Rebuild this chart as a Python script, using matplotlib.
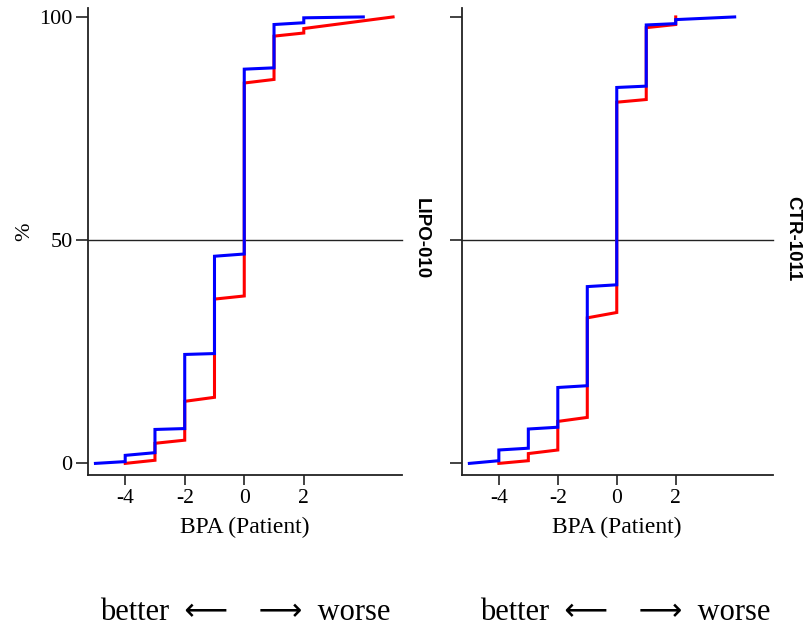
import matplotlib
matplotlib.use("Agg")
import matplotlib.pyplot as plt

# ---- data ----
panel_names = ["LIPO-010", "CTR-1011"]

# step levels: x value, percent arriving at x, percent after the vertical step at x
lipo_blue_x = [-5, -4, -3, -2, -1, 0, 1, 2, 4]
lipo_blue_lo = [0, 0.4, 2.4, 7.8, 24.6, 46.9, 88.6, 98.7, 100]
lipo_blue_hi = [0, 1.8, 7.6, 24.4, 46.4, 88.3, 98.3, 99.8, 100]

lipo_red_x = [-4, -3, -2, -1, 0, 1, 2, 5]
lipo_red_lo = [0, 0.7, 5.2, 14.8, 37.5, 86.0, 96.4, 100]
lipo_red_hi = [0, 4.5, 13.9, 36.8, 85.2, 95.7, 97.4, 100]

ctr_blue_x = [-5, -4, -3, -2, -1, 0, 1, 2, 4]
ctr_blue_lo = [0, 0.6, 3.4, 8.1, 17.4, 40.0, 84.5, 98.5, 100]
ctr_blue_hi = [0, 3.0, 7.7, 17.0, 39.6, 84.2, 98.2, 99.4, 100]

ctr_red_x = [-4, -3, -2, -1, 0, 1, 2]
ctr_red_lo = [0, 0.6, 3.0, 10.3, 33.8, 81.5, 98.3]
ctr_red_hi = [0, 2.2, 9.4, 32.6, 80.9, 97.6, 100]

x_ticks = [-4, -2, 0, 2]
y_ticks = [0, 50, 100]
reference_pct = 50

panels = [
    (lipo_red_x, lipo_red_lo, lipo_red_hi, lipo_blue_x, lipo_blue_lo, lipo_blue_hi),
    (ctr_red_x, ctr_red_lo, ctr_red_hi, ctr_blue_x, ctr_blue_lo, ctr_blue_hi),
]


def step_path(xs, lo, hi):
    px, py = [], []
    for x, a, b in zip(xs, lo, hi):
        px += [x, x]
        py += [a, b]
    return px, py


W, H = 804, 631
fig = plt.figure(figsize=(W / 100, H / 100), dpi=100)
serif = ["Liberation Serif", "DejaVu Serif"]
serif_arrows = ["Liberation Serif", "DejaVu Sans"]
sans = ["Liberation Sans", "DejaVu Sans"]

axes_px = [(88, 402), (462, 773)]
top_px, bot_px = 8, 475

for i, (rx, rlo, rhi, bx, blo, bhi) in enumerate(panels):
    l, r = axes_px[i]
    ax = fig.add_axes([l / W, 1 - bot_px / H, (r - l) / W, (bot_px - top_px) / H])
    ax.axhline(reference_pct, color="#222222", lw=1.0, zorder=1, clip_on=False)
    px, py = step_path(rx, rlo, rhi)
    ax.plot(px, py, color="#ff0000", lw=2.2, solid_joinstyle="miter", zorder=2)
    px, py = step_path(bx, blo, bhi)
    ax.plot(px, py, color="#0000ff", lw=2.2, solid_joinstyle="miter", zorder=3)

    ax.set_xlim(-5.25, 5.3)
    ax.set_ylim(-2.6, 102)
    for s in ["top", "right"]:
        ax.spines[s].set_visible(False)
    for s in ["left", "bottom"]:
        ax.spines[s].set_color("#222222")
        ax.spines[s].set_linewidth(1.3)
    ax.set_xticks(x_ticks)
    ax.set_xticklabels([str(t) for t in x_ticks], fontfamily=serif, fontsize=15.5)
    ax.set_yticks(y_ticks)
    if i == 0:
        ax.set_yticklabels([str(t) for t in y_ticks], fontfamily=serif, fontsize=16)
    else:
        ax.set_yticklabels([])
    ax.tick_params(axis="x", direction="out", length=7, width=1.2, color="#222222", pad=3)
    ax.tick_params(axis="y", direction="out", length=9, width=1.2, color="#222222", pad=2)

    fig.text([245, 617][i] / W, 1 - 527 / H, "BPA (Patient)", ha="center", va="center",
             fontfamily=serif, fontsize=17)
    fig.text([421, 793][i] / W, 1 - 239 / H, panel_names[i], rotation=-90,
             ha="center", va="center", fontfamily=sans, fontsize=13.5, fontweight="bold")
    fig.text([245, 625][i] / W, 1 - 612 / H, "better  \u27f5    \u27f6  worse",
             ha="center", va="center", fontfamily=serif_arrows, fontsize=22)

fig.text(25 / W, 1 - 232 / H, "%", rotation=90, ha="center", va="center",
         fontfamily=serif, fontsize=16)

fig.savefig("out.png", dpi=100)
